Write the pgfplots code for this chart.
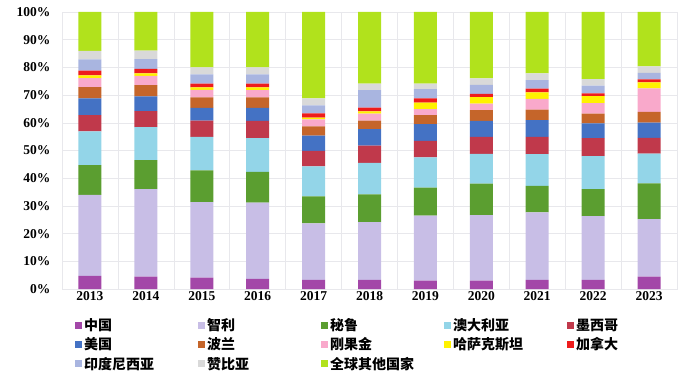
\documentclass[border=0pt]{standalone}
\usepackage{fontspec}
\setmainfont{Liberation Serif}
\newfontfamily\cjk{Noto Sans CJK SC}
\usepackage{pgfplots}
\usepackage{pgfplotstable}
\pgfplotsset{compat=1.18}
\definecolor{cn}{HTML}{A347A8}
\definecolor{cl}{HTML}{C8BEE6}
\definecolor{pe}{HTML}{5B9E30}
\definecolor{au}{HTML}{93D5E8}
\definecolor{mx}{HTML}{C0394B}
\definecolor{us}{HTML}{4472C4}
\definecolor{pl}{HTML}{C5652A}
\definecolor{cd}{HTML}{F9A9CB}
\definecolor{kz}{HTML}{FFF200}
\definecolor{ca}{HTML}{EE1C1C}
\definecolor{idn}{HTML}{A9B5E0}
\definecolor{zm}{HTML}{D9D9D9}
\definecolor{ot}{HTML}{B1E21C}
\definecolor{gridc}{HTML}{E8E8EC}
\pgfplotstableread{
x cn cl pe au mx us pl cd kz ca id zm ot
0 4.7 29.3 10.7 12.2 5.9 6.0 4.1 3.2 1.0 1.7 4.1 3.1 14.0
1 4.5 31.6 10.4 11.9 5.8 5.3 4.1 3.3 0.9 1.7 3.5 3.1 13.9
2 4.1 27.3 11.4 12.1 5.9 4.6 3.8 2.7 0.9 1.3 3.4 2.5 20.0
3 3.7 27.5 11.1 12.2 6.2 4.7 3.8 2.6 1.0 1.3 3.4 2.5 20.0
4 3.3 20.4 9.7 10.9 5.6 5.5 3.3 2.5 0.7 1.5 2.9 2.5 31.2
5 3.3 20.8 10.1 11.3 6.3 5.9 3.1 2.5 0.8 1.4 6.3 2.3 25.9
6 3.0 23.5 10.1 10.9 6.0 6.0 3.3 2.1 2.4 1.5 3.4 1.9 25.9
7 3.0 23.7 11.3 10.8 6.1 5.8 3.9 2.3 2.4 1.1 3.3 2.3 24.0
8 3.3 24.4 9.5 11.5 6.2 6.1 3.8 3.8 2.4 1.3 3.1 2.4 22.2
9 3.3 23.0 9.8 11.9 6.5 5.3 3.5 3.8 2.5 1.0 2.8 2.4 24.2
10 4.5 20.7 12.9 10.8 5.7 5.5 3.8 8.5 2.2 1.1 2.3 2.4 19.6
}\datatable
\newcommand{\legbox}[1]{\makebox[112pt][l]{#1}}
\begin{document}
\begin{tikzpicture}
\useasboundingbox (0,0) rectangle (700pt,378pt);
\begin{axis}[
  at={(62pt,89pt)}, anchor=south west,
  scale only axis, width=615pt, height=277pt,
  ybar stacked, bar width=23pt,
  xmin=-0.5, xmax=10.5, ymin=0, ymax=100,
  xtick={0,...,10},
  xticklabels={2013,2014,2015,2016,2017,2018,2019,2020,2021,2022,2023},
  minor xtick={-0.5,0.5,...,10.5},
  ytick={0,10,...,100},
  yticklabel={\pgfmathprintnumber{\tick}\%},
  /pgf/number format/assume math mode=true,
  ticklabel style={font=\bfseries\fontsize{13.5}{13.5}\selectfont},
  yticklabel style={xshift=-8pt},
  xticklabel style={yshift=1pt},
  major tick length=0pt, minor tick length=0pt,
  ymajorgrids, xminorgrids,
  grid style={draw=gridc, line width=0.6pt},
  minor grid style={draw=gridc, line width=0.6pt},
  axis line style={draw=gridc},
  legend columns=5,
  legend style={draw=none, fill=none, at={(0.016,-0.092)}, anchor=north west,
    font=\cjk\bfseries\fontsize{14}{14}\selectfont,
    /tikz/every even column/.append style={column sep=0pt},
    row sep=1.5pt},
  legend cell align=left,
  legend image code/.code={\fill[#1] (0pt,-3.5pt) rectangle (7pt,3.5pt);},
]
\addplot[fill=cn, draw=none] table[x=x,y=cn]{\datatable}; \addlegendentry{\legbox{中国}}
\addplot[fill=cl, draw=none] table[x=x,y=cl]{\datatable}; \addlegendentry{\legbox{智利}}
\addplot[fill=pe, draw=none] table[x=x,y=pe]{\datatable}; \addlegendentry{\legbox{秘鲁}}
\addplot[fill=au, draw=none] table[x=x,y=au]{\datatable}; \addlegendentry{\legbox{澳大利亚}}
\addplot[fill=mx, draw=none] table[x=x,y=mx]{\datatable}; \addlegendentry{\legbox{墨西哥}}
\addplot[fill=us, draw=none] table[x=x,y=us]{\datatable}; \addlegendentry{\legbox{美国}}
\addplot[fill=pl, draw=none] table[x=x,y=pl]{\datatable}; \addlegendentry{\legbox{波兰}}
\addplot[fill=cd, draw=none] table[x=x,y=cd]{\datatable}; \addlegendentry{\legbox{刚果金}}
\addplot[fill=kz, draw=none] table[x=x,y=kz]{\datatable}; \addlegendentry{\legbox{哈萨克斯坦}}
\addplot[fill=ca, draw=none] table[x=x,y=ca]{\datatable}; \addlegendentry{\legbox{加拿大}}
\addplot[fill=idn, draw=none] table[x=x,y=id]{\datatable}; \addlegendentry{\legbox{印度尼西亚}}
\addplot[fill=zm, draw=none] table[x=x,y=zm]{\datatable}; \addlegendentry{\legbox{赞比亚}}
\addplot[fill=ot, draw=none] table[x=x,y=ot]{\datatable}; \addlegendentry{\legbox{全球其他国家}}
\end{axis}
\end{tikzpicture}
\end{document}
